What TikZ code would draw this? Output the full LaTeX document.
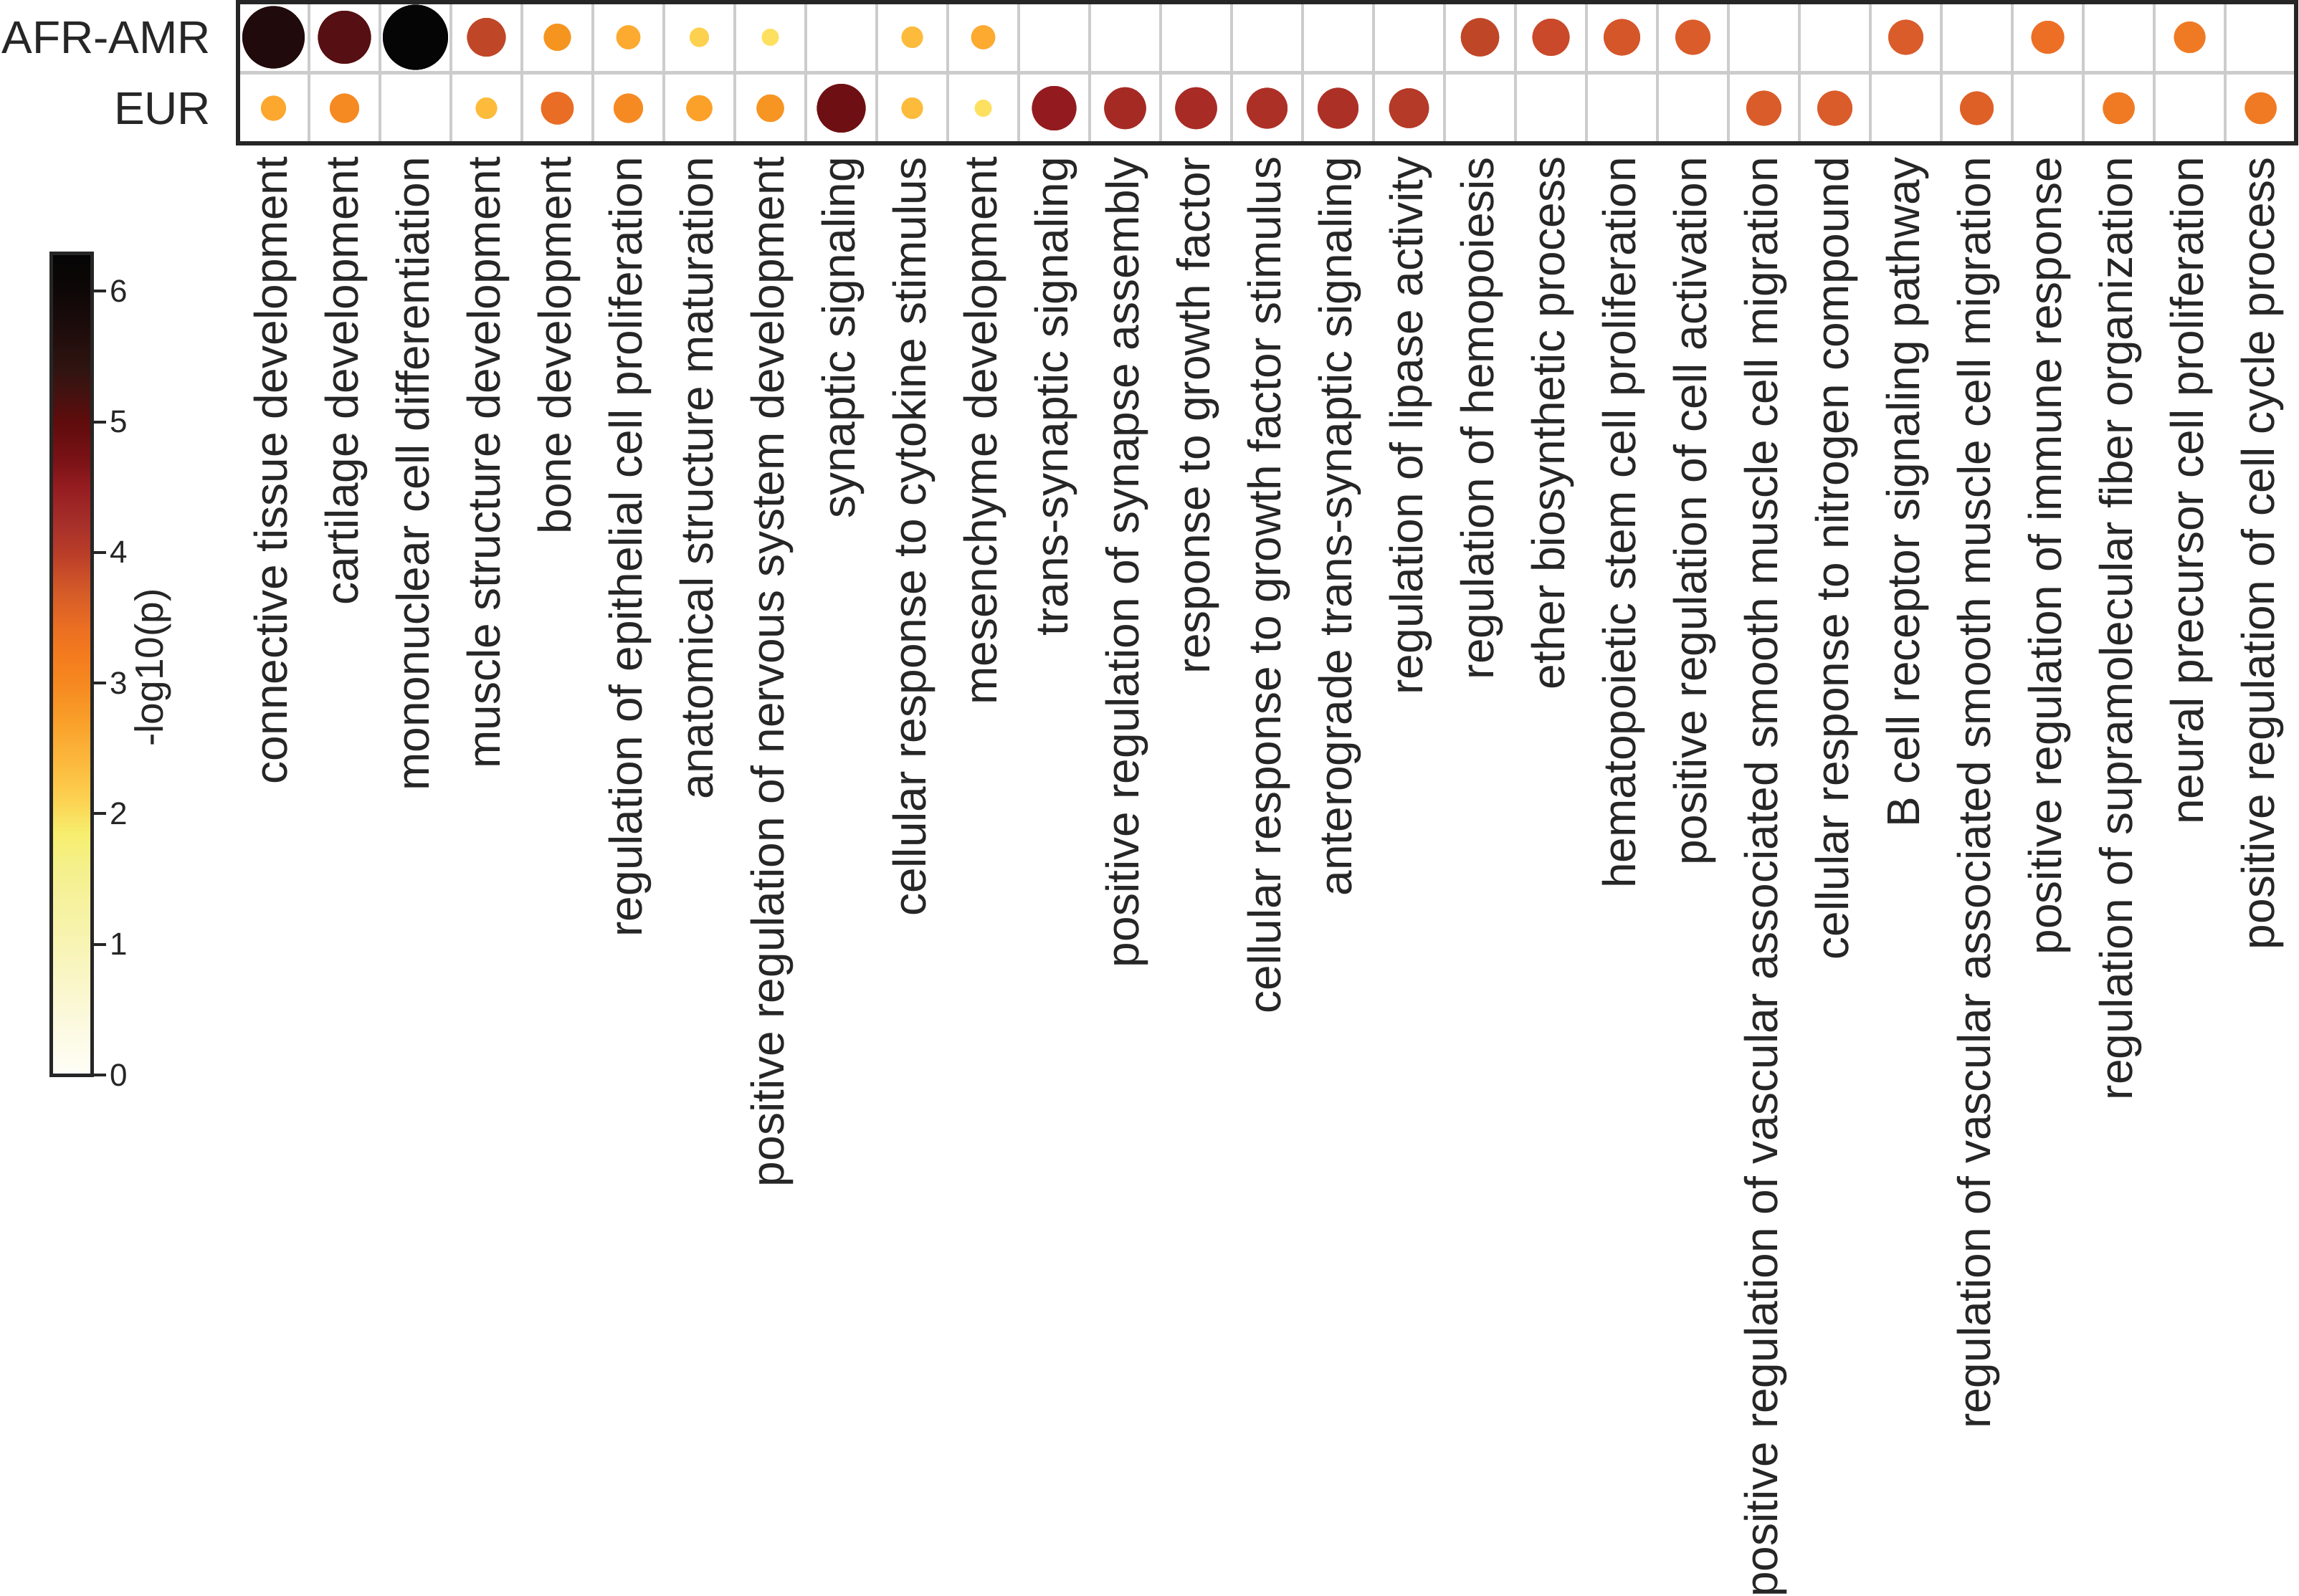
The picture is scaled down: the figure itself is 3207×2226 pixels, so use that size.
\documentclass[tikz,border=0pt]{standalone}
\usepackage{fontspec}
\setmainfont{Liberation Sans}
\usepackage{tikz}

\definecolor{axisgray}{HTML}{262626}
\definecolor{cellgray}{HTML}{CCCCCC}

% heat colours of the dots
\definecolor{hA}{HTML}{200A0B}
\definecolor{hB}{HTML}{560F12}
\definecolor{hC}{HTML}{050505}
\definecolor{hD}{HTML}{C04628}
\definecolor{hE}{HTML}{F59520}
\definecolor{hF}{HTML}{FCAA30}
\definecolor{hG}{HTML}{FDD150}
\definecolor{hH}{HTML}{FEE060}
\definecolor{hI}{HTML}{FDBB3C}
\definecolor{hJ}{HTML}{C9492A}
\definecolor{hK}{HTML}{D45629}
\definecolor{hL}{HTML}{DA5C2A}
\definecolor{hM}{HTML}{EC6F25}
\definecolor{hN}{HTML}{F07A23}
\definecolor{hO}{HTML}{FCA72D}
\definecolor{hP}{HTML}{F68A22}
\definecolor{hQ}{HTML}{E96D25}
\definecolor{hR}{HTML}{FBA12A}
\definecolor{hS}{HTML}{F79522}
\definecolor{hT}{HTML}{6E1013}
\definecolor{hU}{HTML}{931B1F}
\definecolor{hV}{HTML}{A62A24}
\definecolor{hW}{HTML}{A82B25}
\definecolor{hX}{HTML}{AD3026}
\definecolor{hY}{HTML}{B53A27}
\definecolor{hZ}{HTML}{DE6027}

% colour bar stops
\definecolor{cb00}{HTML}{FEFEF8}
\definecolor{cb05}{HTML}{FBF8D8}
\definecolor{cb10}{HTML}{F8F4B4}
\definecolor{cb13}{HTML}{F6F2A0}
\definecolor{cb16}{HTML}{F5F08A}
\definecolor{cb18}{HTML}{F7EE6E}
\definecolor{cb21}{HTML}{FDD252}
\definecolor{cb24}{HTML}{FCB83C}
\definecolor{cb27}{HTML}{F9A02A}
\definecolor{cb30}{HTML}{F68820}
\definecolor{cb32}{HTML}{F47C1E}
\definecolor{cb34}{HTML}{EC7022}
\definecolor{cb37}{HTML}{D45A28}
\definecolor{cb40}{HTML}{B83C28}
\definecolor{cb42}{HTML}{A8302A}
\definecolor{cb45}{HTML}{941C20}
\definecolor{cb47}{HTML}{7A1216}
\definecolor{cb50}{HTML}{5E0C0C}
\definecolor{cb52}{HTML}{451210}
\definecolor{cb54}{HTML}{2F1410}
\definecolor{cb57}{HTML}{1E0C0C}
\definecolor{cb60}{HTML}{0E0707}
\definecolor{cb63}{HTML}{050505}

\pgfdeclareverticalshading{heatbar}{100bp}{
  color(0bp)=(cb00); color(25bp)=(cb00); color(28.98bp)=(cb05); color(32.96bp)=(cb10);
  color(35.35bp)=(cb13); color(37.74bp)=(cb16); color(39.73bp)=(cb18); color(41.72bp)=(cb21);
  color(44.11bp)=(cb24); color(46.50bp)=(cb27); color(48.89bp)=(cb30); color(50.48bp)=(cb32);
  color(52.07bp)=(cb34); color(54.46bp)=(cb37); color(56.85bp)=(cb40); color(58.44bp)=(cb42);
  color(60.83bp)=(cb45); color(62.42bp)=(cb47); color(64.81bp)=(cb50); color(66.40bp)=(cb52);
  color(67.99bp)=(cb54); color(70.38bp)=(cb57); color(72.77bp)=(cb60); color(75bp)=(cb63);
  color(100bp)=(cb63)}

\tikzset{
  pdot/.style={circle, inner sep=0pt, draw=white, line width=0.4pt},
  rowlabel/.style={anchor=base east, inner sep=0pt, text=axisgray, font={\fontsize{16}{19}\selectfont}},
  termlabel/.style={rotate=90, anchor=base east, inner sep=0pt, text=axisgray, font={\fontsize{16}{19}\selectfont}},
  ticklabel/.style={anchor=west, inner sep=0pt, text=axisgray, font={\fontsize{11}{13}\selectfont}},
  gridline/.style={draw=cellgray, line width=1.1pt},
  frameline/.style={draw=axisgray, line width=1.5pt}
}

\begin{document}
\begin{tikzpicture}[x=0.25pt, y=-0.25pt]

\useasboundingbox (0,0) rectangle (3207,2226);

% cell grid
\draw [gridline] (332,101.5) -- (3203,101.5);
\draw [gridline] (431,3) -- (431,200.5) (530,3) -- (530,200.5) (629,3) -- (629,200.5) (728,3) -- (728,200.5)
  (827,3) -- (827,200.5) (926,3) -- (926,200.5) (1025,3) -- (1025,200.5) (1124,3) -- (1124,200.5)
  (1223,3) -- (1223,200.5) (1322,3) -- (1322,200.5) (1421,3) -- (1421,200.5) (1520,3) -- (1520,200.5)
  (1619,3) -- (1619,200.5) (1718,3) -- (1718,200.5) (1817,3) -- (1817,200.5) (1916,3) -- (1916,200.5)
  (2015,3) -- (2015,200.5) (2114,3) -- (2114,200.5) (2213,3) -- (2213,200.5) (2312,3) -- (2312,200.5)
  (2411,3) -- (2411,200.5) (2510,3) -- (2510,200.5) (2609,3) -- (2609,200.5) (2708,3) -- (2708,200.5)
  (2807,3) -- (2807,200.5) (2906,3) -- (2906,200.5) (3005,3) -- (3005,200.5) (3104,3) -- (3104,200.5);

% AFR-AMR row
\node [pdot, fill=hA, minimum size=22.25pt] (a1) at (381.5,52) {};
\node [pdot, fill=hB, minimum size=19pt] (a2) at (480.5,52) {};
\node [pdot, fill=hC, minimum size=23.25pt] (a3) at (579.5,52) {};
\node [pdot, fill=hD, minimum size=14pt] (a4) at (678.5,52) {};
\node [pdot, fill=hE, minimum size=10pt] (a5) at (777.5,52) {};
\node [pdot, fill=hF, minimum size=8.9pt] (a6) at (876.5,52) {};
\node [pdot, fill=hG, minimum size=7.25pt] (a7) at (975.5,52) {};
\node [pdot, fill=hH, minimum size=6.5pt] (a8) at (1074.5,52) {};
\node [pdot, fill=hI, minimum size=8pt] (a10) at (1272.5,52) {};
\node [pdot, fill=hF, minimum size=8.9pt] (a11) at (1371.5,52) {};
\node [pdot, fill=hD, minimum size=13.9pt] (a18) at (2064.5,52) {};
\node [pdot, fill=hJ, minimum size=13.5pt] (a19) at (2163.5,52) {};
\node [pdot, fill=hK, minimum size=13.25pt] (a20) at (2262.5,52) {};
\node [pdot, fill=hL, minimum size=12.75pt] (a21) at (2361.5,52) {};
\node [pdot, fill=hL, minimum size=12.75pt] (a24) at (2658.5,52) {};
\node [pdot, fill=hM, minimum size=12pt] (a26) at (2856.5,52) {};
\node [pdot, fill=hN, minimum size=11.5pt] (a28) at (3054.5,52) {};

% EUR row
\node [pdot, fill=hO, minimum size=9.25pt] (e1) at (381.5,151) {};
\node [pdot, fill=hP, minimum size=10.75pt] (e2) at (480.5,151) {};
\node [pdot, fill=hI, minimum size=8pt] (e4) at (678.5,151) {};
\node [pdot, fill=hQ, minimum size=11.9pt] (e5) at (777.5,151) {};
\node [pdot, fill=hP, minimum size=10.75pt] (e6) at (876.5,151) {};
\node [pdot, fill=hR, minimum size=9.6pt] (e7) at (975.5,151) {};
\node [pdot, fill=hS, minimum size=10.1pt] (e8) at (1074.5,151) {};
\node [pdot, fill=hT, minimum size=17.5pt] (e9) at (1173.5,151) {};
\node [pdot, fill=hI, minimum size=8pt] (e10) at (1272.5,151) {};
\node [pdot, fill=hH, minimum size=6.5pt] (e11) at (1371.5,151) {};
\node [pdot, fill=hU, minimum size=16pt] (e12) at (1470.5,151) {};
\node [pdot, fill=hV, minimum size=15.1pt] (e13) at (1569.5,151) {};
\node [pdot, fill=hW, minimum size=15.1pt] (e14) at (1668.5,151) {};
\node [pdot, fill=hX, minimum size=14.75pt] (e15) at (1767.5,151) {};
\node [pdot, fill=hX, minimum size=14.75pt] (e16) at (1866.5,151) {};
\node [pdot, fill=hY, minimum size=14.4pt] (e17) at (1965.5,151) {};
\node [pdot, fill=hL, minimum size=12.75pt] (e22) at (2460.5,151) {};
\node [pdot, fill=hL, minimum size=12.75pt] (e23) at (2559.5,151) {};
\node [pdot, fill=hZ, minimum size=12.25pt] (e25) at (2757.5,151) {};
\node [pdot, fill=hN, minimum size=11.6pt] (e27) at (2955.5,151) {};
\node [pdot, fill=hN, minimum size=11.6pt] (e29) at (3153.5,151) {};

\draw [frameline] (332,3) rectangle (3203,200.5);

% row names
\node [rowlabel] (lafr) at (295,75) {AFR-AMR};
\node [rowlabel] (leur) at (295,174) {EUR};

% term names
\node [termlabel] (t1) at (400.5,218) {connective tissue development};
\node [termlabel] (t2) at (499.5,218) {cartilage development};
\node [termlabel] (t3) at (598.5,218) {mononuclear cell differentiation};
\node [termlabel] (t4) at (697.5,218) {muscle structure development};
\node [termlabel] (t5) at (796.5,218) {bone development};
\node [termlabel] (t6) at (895.5,218) {regulation of epithelial cell proliferation};
\node [termlabel] (t7) at (994.5,218) {anatomical structure maturation};
\node [termlabel] (t8) at (1093.5,218) {positive regulation of nervous system development};
\node [termlabel] (t9) at (1192.5,218) {synaptic signaling};
\node [termlabel] (t10) at (1291.5,218) {cellular response to cytokine stimulus};
\node [termlabel] (t11) at (1390.5,218) {mesenchyme development};
\node [termlabel] (t12) at (1489.5,218) {trans-synaptic signaling};
\node [termlabel] (t13) at (1588.5,218) {positive regulation of synapse assembly};
\node [termlabel] (t14) at (1687.5,218) {response to growth factor};
\node [termlabel] (t15) at (1786.5,218) {cellular response to growth factor stimulus};
\node [termlabel] (t16) at (1885.5,218) {anterograde trans-synaptic signaling};
\node [termlabel] (t17) at (1984.5,218) {regulation of lipase activity};
\node [termlabel] (t18) at (2083.5,218) {regulation of hemopoiesis};
\node [termlabel] (t19) at (2182.5,218) {ether biosynthetic process};
\node [termlabel] (t20) at (2281.5,218) {hematopoietic stem cell proliferation};
\node [termlabel] (t21) at (2380.5,218) {positive regulation of cell activation};
\node [termlabel] (t22) at (2479.5,218) {positive regulation of vascular associated smooth muscle cell migration};
\node [termlabel] (t23) at (2578.5,218) {cellular response to nitrogen compound};
\node [termlabel] (t24) at (2677.5,218) {B cell receptor signaling pathway};
\node [termlabel] (t25) at (2776.5,218) {regulation of vascular associated smooth muscle cell migration};
\node [termlabel] (t26) at (2875.5,218) {positive regulation of immune response};
\node [termlabel] (t27) at (2974.5,218) {regulation of supramolecular fiber organization};
\node [termlabel] (t28) at (3073.5,218) {neural precursor cell proliferation};
\node [termlabel] (t29) at (3172.5,218) {positive regulation of cell cycle process};

% colour bar
\shade [shading=heatbar] (71.5,353) rectangle (128.5,1500);
\draw [draw=axisgray, line width=1.25pt] (71.5,353) rectangle (128.5,1500);
\draw [draw=axisgray, line width=1pt] (128.5,1500) -- (147.5,1500) (128.5,1317.7) -- (147.5,1317.7)
  (128.5,1135.4) -- (147.5,1135.4) (128.5,953.1) -- (147.5,953.1) (128.5,770.8) -- (147.5,770.8)
  (128.5,588.5) -- (147.5,588.5) (128.5,406.2) -- (147.5,406.2);
\node [ticklabel] (v0) at (153,1500) {0};
\node [ticklabel] (v1) at (153,1317.7) {1};
\node [ticklabel] (v2) at (153,1135.4) {2};
\node [ticklabel] (v3) at (153,953.1) {3};
\node [ticklabel] (v4) at (153,770.8) {4};
\node [ticklabel] (v5) at (153,588.5) {5};
\node [ticklabel] (v6) at (153,406.2) {6};
\node [rotate=90, inner sep=0pt, text=axisgray, font={\fontsize{13.75}{16}\selectfont}] (cblabel) at (213.5,931.5) {-log10(p)};

\end{tikzpicture}
\end{document}
